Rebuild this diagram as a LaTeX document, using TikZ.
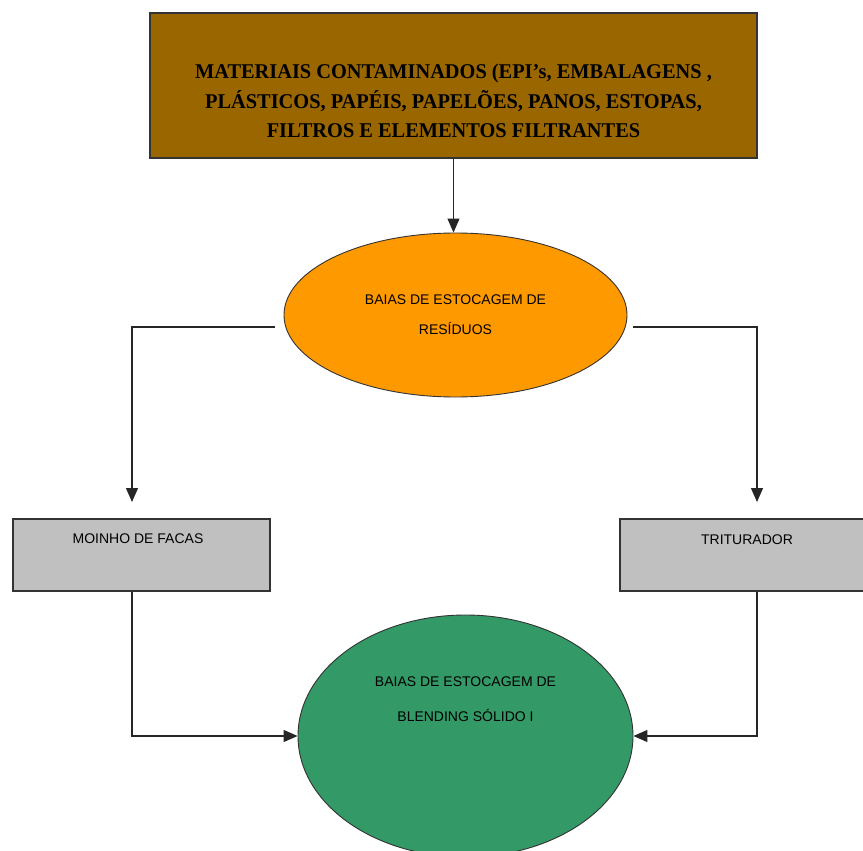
\documentclass[tikz,border=0pt]{standalone}
\usepackage{fontspec}
\setmainfont{Liberation Sans}
\newfontfamily\headfont[FakeStretch=0.97]{Liberation Serif}
\usetikzlibrary{positioning,shapes.geometric,arrows.meta}
\definecolor{headbrown}{HTML}{996600}
\definecolor{bayorange}{HTML}{FF9900}
\definecolor{machgray}{HTML}{C0C0C0}
\definecolor{baygreen}{HTML}{339966}
\tikzset{
  head/.style ={rectangle, draw=black!80, line width=1.5pt, fill=headbrown, minimum width=607pt, minimum height=145pt},
  bay/.style  ={ellipse, draw=black!80, line width=0.9pt, inner sep=0pt},
  mach/.style ={rectangle, draw=black!80, line width=1.3pt, fill=machgray, minimum height=72pt},
  htxt/.style ={font=\headfont\bfseries\fontsize{21}{29.5}\selectfont, align=center},
  btxt/.style ={font=\fontsize{14}{30}\selectfont, align=center},
  e/.style    ={-{Triangle[length=14pt,width=12pt]}, line width=1.2pt, draw=black!85},
}
\begin{document}
\begin{tikzpicture}[x=1pt,y=-1pt]
\useasboundingbox (0,0) rectangle (863,851);
\node[head] (mat) at (453.5,85.5) {};
\node[htxt] (matlbl) at (453.5,101) {MATERIAIS CONTAMINADOS (EPI’s, EMBALAGENS ,\\PLÁSTICOS, PAPÉIS, PAPELÕES, PANOS, ESTOPAS,\\FILTROS E ELEMENTOS FILTRANTES};
\node[bay, fill=bayorange, minimum width=343pt, minimum height=164pt, btxt] (res) at (455.5,315) {BAIAS DE ESTOCAGEM DE\\RESÍDUOS};
\node[mach, minimum width=257pt] (moinho) at (141.5,555) {};
\node[btxt] (moinholbl) at (138,539) {MOINHO DE FACAS};
\node[mach, minimum width=254pt] (trit) at (747,555) {};
\node[btxt] (tritlbl) at (747,540) {TRITURADOR};
\node[bay, fill=baygreen, minimum width=335pt, minimum height=242pt] (blend) at (465.5,736) {};
\node[btxt, font=\fontsize{14}{35}\selectfont] (blendlbl) at (465.5,699) {BAIAS DE ESTOCAGEM DE\\BLENDING SÓLIDO I};
% free ends of the side connectors
\coordinate (lstart) at (275,327);
\coordinate (lend) at (132,502);
\coordinate (rstart) at (633,327);
\coordinate (rend) at (757,502);
\draw[e] (mat.south) -- (mat.south |- res.north);
\draw[e] (lstart) -| (lend);
\draw[e] (rstart) -| (rend);
\draw[e] (moinho.south -| lend) |- (blend.west);
\draw[e] (trit.south -| rend) |- (blend.east);
\end{tikzpicture}
\end{document}
